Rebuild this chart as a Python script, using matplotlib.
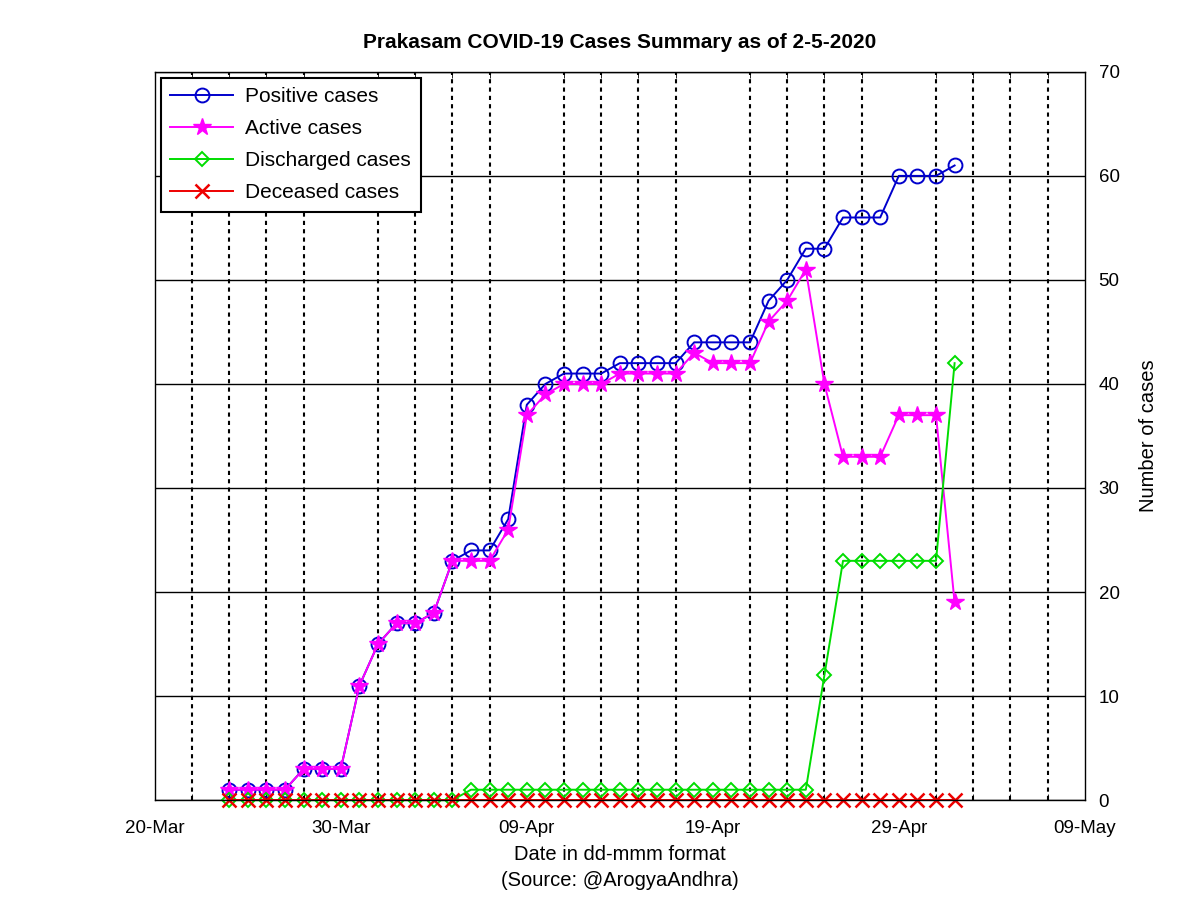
import numpy as np
import pandas as pd
import matplotlib
matplotlib.use("Agg")
import matplotlib.pyplot as plt
import matplotlib.dates as mdates

plt.rcParams['font.family'] = ['Liberation Sans', 'DejaVu Sans']

dates = pd.date_range("2020-03-24", "2020-05-02", freq="D")

positive = [1, 1, 1, 1, 3, 3, 3, 11, 15, 17, 17, 18, 23, 24, 24, 27, 38, 40, 41, 41,
            41, 42, 42, 42, 42, 44, 44, 44, 44, 48, 50, 53, 53, 56, 56, 56, 60, 60, 60, 61]
active = [1, 1, 1, 1, 3, 3, 3, 11, 15, 17, 17, 18, 23, 23, 23, 26, 37, 39, 40, 40,
          40, 41, 41, 41, 41, 43, 42, 42, 42, 46, 48, 51, 40, 33, 33, 33, 37, 37, 37, 19]
discharged = [0, 0, 0, 0, 0, 0, 0, 0, 0, 0, 0, 0, 0, 1, 1, 1, 1, 1, 1, 1,
              1, 1, 1, 1, 1, 1, 1, 1, 1, 1, 1, 1, 12, 23, 23, 23, 23, 23, 23, 42]
deceased = [0] * 40

fig = plt.figure(figsize=(12, 8.98), dpi=100)
ax = fig.add_axes([0.129, 0.109, 0.775, 0.811])

ax.plot(dates, positive, '-o', color='#0000cc', mfc='none', ms=10, lw=1.4, mew=1.4,
        label='Positive cases', clip_on=False)
ax.plot(dates, active, '-*', color='#ff00ff', ms=13, lw=1.4, label='Active cases', clip_on=False)
ax.plot(dates, discharged, '-D', color='#00dd00', mfc='none', ms=7, lw=1.4, mew=1.4,
        label='Discharged cases', clip_on=False)
ax.plot(dates, deceased, '-x', color='#ee0000', ms=10, lw=1.4, mew=1.8,
        label='Deceased cases', clip_on=False)

ax.set_xlim(pd.Timestamp("2020-03-20"), pd.Timestamp("2020-05-09"))
ax.set_ylim(0, 70)
ax.set_xticks(pd.date_range("2020-03-20", "2020-05-09", freq="10D"))
ax.xaxis.set_major_formatter(mdates.DateFormatter("%d-%b"))
ax.set_xticks(pd.date_range("2020-03-22", "2020-05-08", freq="2D"), minor=True)
ax.set_yticks(np.arange(0, 71, 10))

ax.yaxis.tick_right()
ax.yaxis.set_label_position("right")
ax.tick_params(axis='both', which='both', direction='in', labelsize=13.5, top=True, right=True, left=False)
ax.tick_params(axis='x', which='minor', length=4)
ax.tick_params(axis='x', which='major', length=0, pad=14)
ax.tick_params(axis='y', length=0, pad=10)

ax.grid(axis='x', which='minor', color='black', linestyle=(0, (2, 2)), linewidth=1.5)
ax.grid(axis='y', which='major', color='black', linestyle='-', linewidth=1.0)
ax.set_axisbelow(True)

for s in ax.spines.values():
    s.set_linewidth(1.0)

ax.set_title("Prakasam COVID-19 Cases Summary as of 2-5-2020", fontsize=15, fontweight='bold', pad=17)
ax.set_xlabel("Date in dd-mmm format\n(Source: @ArogyaAndhra)", fontsize=14.5, labelpad=6,
              linespacing=1.5)
ax.set_ylabel("Number of cases", fontsize=14.5, labelpad=14)

leg = ax.legend(loc='upper left', fontsize=15, fancybox=False, framealpha=1, edgecolor='black',
                borderaxespad=0.3, handlelength=3.0, handletextpad=0.6, labelspacing=0.62,
                borderpad=0.45)
leg.get_frame().set_linewidth(1.5)

fig.savefig("out.png", dpi=100)
